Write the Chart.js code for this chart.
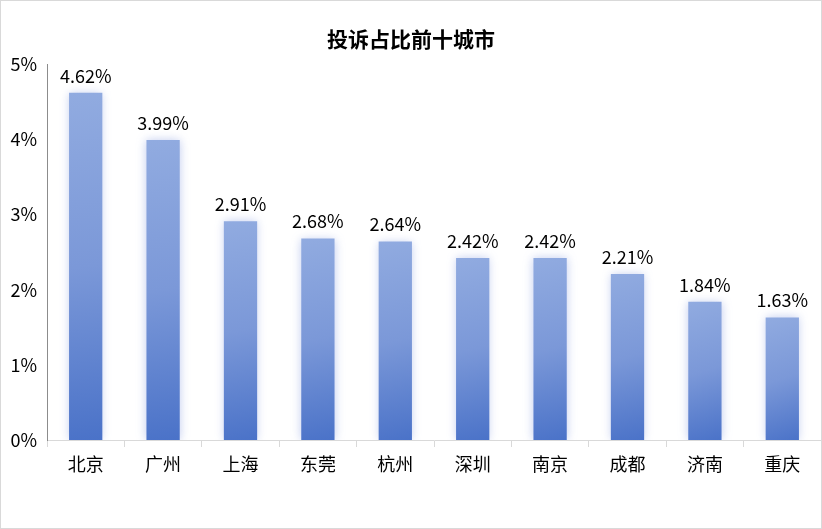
<!DOCTYPE html>
<html><head><meta charset="utf-8">
<script src="https://cdn.jsdelivr.net/npm/chart.js@4"></script>
<style>
html,body{margin:0;padding:0;background:#fff;}
#wrap{width:822px;height:529px;box-sizing:border-box;border:1px solid #d9d9d9;position:relative;}
canvas{display:block;}
</style></head><body>
<div id="wrap"><canvas id="c" width="820" height="527"></canvas></div>
<script>
const categories = ['北京','广州','上海','东莞','杭州','深圳','南京','成都','济南','重庆'];
const shares = [4.62, 3.99, 2.91, 2.68, 2.64, 2.42, 2.42, 2.21, 1.84, 1.63];
const yTicks = [0,1,2,3,4,5];
const titleText = '投诉占比前十城市';

const FONT = '"Noto Sans CJK SC", "Noto Sans", sans-serif';

function barGradient(context){
  const chart = context.chart;
  const {ctx, chartArea, scales} = chart;
  if (!chartArea || context.parsed === undefined) return '#7b9ad8';
  const yTop = scales.y.getPixelForValue(context.parsed.y);
  const yBot = scales.y.getPixelForValue(0);
  const xc = scales.x.getPixelForValue(context.dataIndex);
  const g = ctx.createLinearGradient(xc - 20, yTop, xc + 20, yBot);
  g.addColorStop(0, '#91abe0');
  g.addColorStop(0.5, '#7b98d8');
  g.addColorStop(1, '#4a72c8');
  return g;
}

const shadowPlugin = {
  id: 'shadow',
  beforeDatasetsDraw(chart){
    const c = chart.ctx; c.save();
    c.shadowColor = 'rgba(80,110,210,0.35)';
    c.shadowBlur = 9;
    c.shadowOffsetX = 0; c.shadowOffsetY = 0;
  },
  afterDatasetsDraw(chart){
    chart.ctx.restore();
    const c = chart.ctx;
    const meta = chart.getDatasetMeta(0);
    c.save();
    c.font = '18px ' + FONT;
    c.fillStyle = '#000';
    c.textAlign = 'center';
    c.textBaseline = 'bottom';
    meta.data.forEach((bar, i) => {
      c.fillText(shares[i].toFixed(2) + '%', bar.x, bar.y - 8);
    });
    c.restore();
  }
};

new Chart(document.getElementById('c'), {
  type: 'bar',
  data: {
    labels: categories,
    datasets: [{
      data: shares,
      backgroundColor: barGradient,
      borderWidth: 0,
      categoryPercentage: 1,
      barPercentage: 0.43
    }]
  },
  options: {
    responsive: false,
    animation: false,
    devicePixelRatio: 1,
    layout: { padding: { left: 0, right: 0, top: 0, bottom: 0 } },
    plugins: {
      legend: { display: false },
      tooltip: { enabled: false },
      title: {
        display: true,
        text: titleText,
        color: '#000',
        font: { family: FONT, size: 21, weight: 'bold' },
        padding: { top: 25, bottom: 13 }
      }
    },
    scales: {
      x: {
        offset: true,
        grid: { display: true, drawOnChartArea: false, drawTicks: true, tickLength: 7, color: '#d9d9d9', offset: true },
        border: { display: true, color: '#d9d9d9', width: 1 },
        ticks: { color: '#000', font: { family: FONT, size: 18 }, padding: 6, maxRotation: 0 },
        afterFit(s){ s.height = 88; }
      },
      y: {
        min: 0, max: 5,
        afterBuildTicks(s){ s.ticks = yTicks.map(v => ({value: v})); },
        grid: { display: false, drawTicks: false },
        border: { display: true, color: '#8c8c8c', width: 1 },
        ticks: { color: '#000', font: { family: FONT, size: 18 }, padding: 10, callback: v => v + '%' },
        afterFit(s){ s.width = 46; }
      }
    }
  },
  plugins: [shadowPlugin]
});
</script>
</body></html>
